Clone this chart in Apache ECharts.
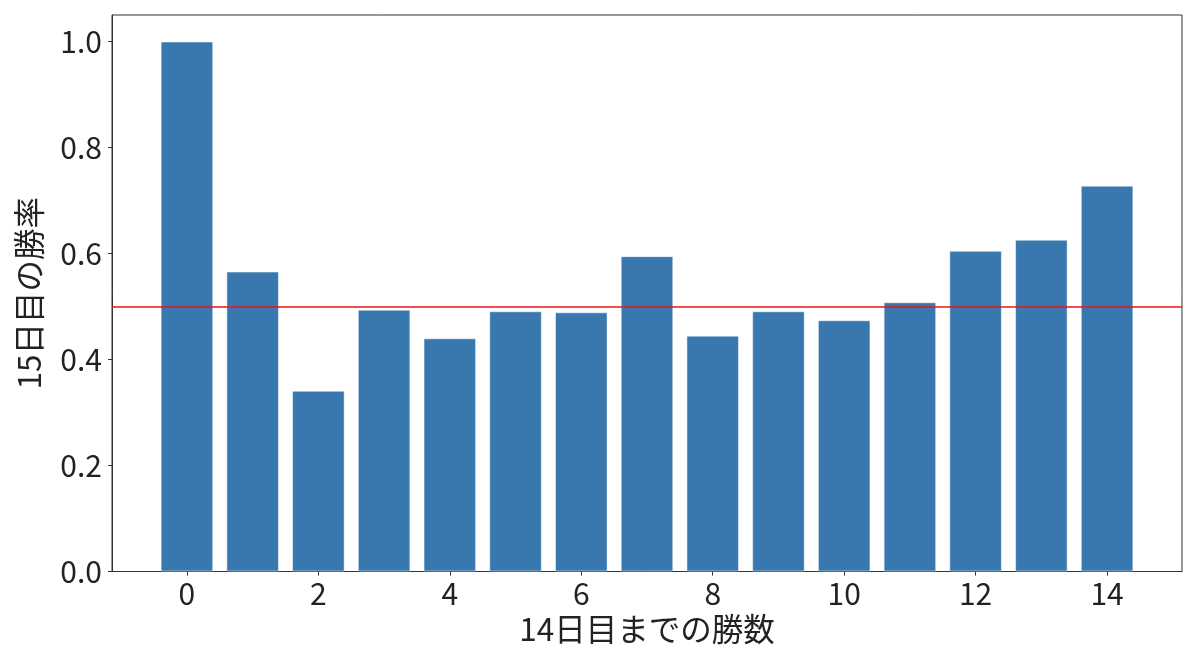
<!DOCTYPE html>
<html>
<head>
<meta charset="utf-8">
<script src="https://cdn.jsdelivr.net/npm/echarts@6/dist/echarts.min.js"></script>
<style>
html,body{margin:0;padding:0;background:#fff;}
#chart{width:1200px;height:657px;}
</style>
</head>
<body>
<div id="chart"></div>
<script>
const wins = [0,1,2,3,4,5,6,7,8,9,10,11,12,13,14];
const winRate = [1.0, 0.566, 0.341, 0.494, 0.440, 0.491, 0.489, 0.595, 0.445, 0.491, 0.474, 0.508, 0.605, 0.626, 0.728];
const xTicks = [0,2,4,6,8,10,12,14];
const yTicks = [0,0.2,0.4,0.6,0.8,1.0];
const refLine = 0.5;
const xName = '14日目までの勝数';
const yName = '15日目の勝率';

const font = '"Noto Sans CJK JP", "Noto Sans", sans-serif';
const chart = echarts.init(document.getElementById('chart'));
chart.setOption({
  animation: false,
  backgroundColor: '#fff',
  grid: {left: 112, right: 18, top: 15, bottom: 85.5, show: true, borderColor: '#333', borderWidth: 1, containLabel: false},
  xAxis: {
    type: 'value', min: -1.14, max: 15.14,
    name: xName, nameLocation: 'middle', nameGap: 39,
    nameTextStyle: {fontFamily: font, fontSize: 31.5, color: '#222'},
    axisLine: {show: true, onZero: false, lineStyle: {color: '#333', width: 1}},
    axisTick: {show: true, length: 4, lineStyle: {color: '#333'}, customValues: xTicks},
    axisLabel: {fontFamily: font, fontSize: 30, color: '#222', margin: 7, customValues: xTicks, formatter: v => String(v)},
    splitLine: {show: false}
  },
  yAxis: {
    type: 'value', min: 0, max: 1.05,
    name: yName, nameLocation: 'middle', nameGap: 67,
    nameTextStyle: {fontFamily: font, fontSize: 31.5, color: '#222'},
    axisLine: {show: true, onZero: false, lineStyle: {color: '#333', width: 1}},
    axisTick: {show: true, length: 4, lineStyle: {color: '#333'}, customValues: yTicks},
    axisLabel: {fontFamily: font, fontSize: 30, color: '#222', margin: 10, customValues: yTicks, formatter: v => v.toFixed(1)},
    splitLine: {show: false}
  },
  series: [{
    type: 'bar',
    data: wins.map((w, i) => [w, winRate[i]]),
    barWidth: '80%',
    itemStyle: {color: '#3978af', borderColor: 'rgba(255,255,255,0.5)', borderWidth: 1},
    markLine: {
      silent: true, symbol: 'none', animation: false,
      label: {show: false},
      lineStyle: {color: 'rgba(235,20,20,0.75)', width: 2, type: 'solid'},
      data: [{yAxis: refLine}]
    }
  }]
});
</script>
</body>
</html>
